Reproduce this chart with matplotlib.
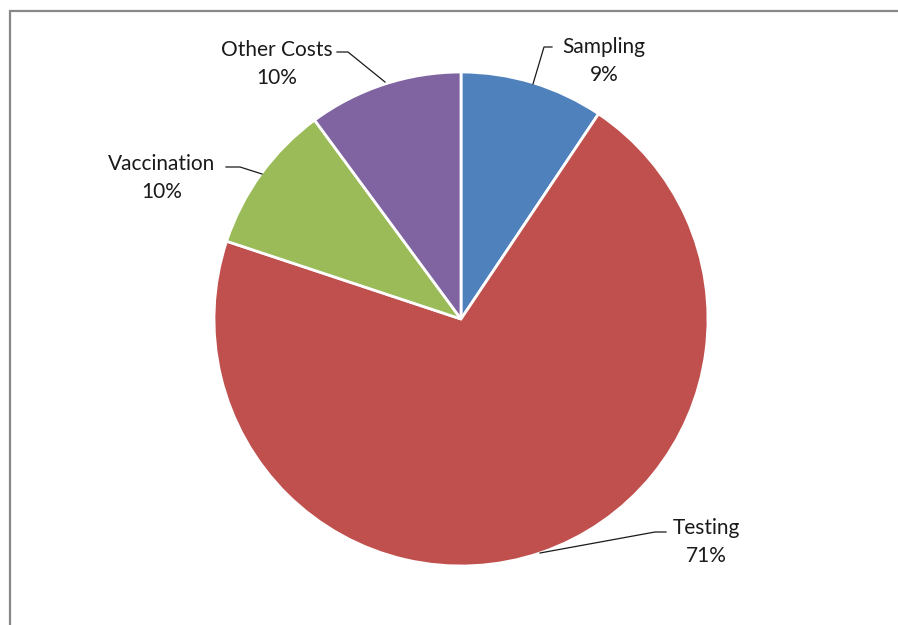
import matplotlib.pyplot as plt

# cost shares (percent)
categories = ["Sampling", "Testing", "Vaccination", "Other Costs"]
shares = [9.4, 70.7, 9.8, 10.1]
colors = ["#4F81BD", "#C0504D", "#9BBB59", "#8064A2"]

W, H = 898, 625


def px(x, y):
    # pixel coords (origin top-left) -> data coords
    return x, H - y


# label block centres and leader paths, in pixel coords
label_pos = {
    "Sampling": (604, 61),
    "Testing": (706, 542),
    "Vaccination": (162, 178),
    "Other Costs": (277, 64),
}
leaders = {
    "Sampling": [(552, 47), (544, 47), (533, 84)],
    "Testing": [(666, 532), (655, 532), (540, 553)],
    "Vaccination": [(226, 167), (240, 167), (262, 174)],
    "Other Costs": [(337, 52), (348, 52), (385, 82)],
}

fig = plt.figure(figsize=(W / 100, H / 100), dpi=100)
ax = fig.add_axes([0, 0, 1, 1])

cx, cy = px(461, 319)
ax.pie(shares, colors=colors, startangle=90, counterclock=False,
       center=(cx, cy), radius=247, frame=True,
       wedgeprops={"edgecolor": "white", "linewidth": 2})
ax.set_xlim(0, W)
ax.set_ylim(0, H)
ax.set_aspect("equal")
ax.axis("off")

for name, val in zip(categories, shares):
    lx, ly = px(*label_pos[name])
    ax.text(lx, ly, f"{name}\n{round(val)}%", ha="center", va="center",
            fontsize=15, family="Lato", color="#1a1a1a", linespacing=1.45)
    pts = [px(x, y) for x, y in leaders[name]]
    ax.plot([p[0] for p in pts], [p[1] for p in pts], color="#1a1a1a", lw=0.9)

# outer chart frame (cut off at right and bottom)
ax.plot([9.5, 9.5, W], [0, H - 11, H - 11], color="#888888", lw=1.6,
        solid_joinstyle="miter", clip_on=False)

fig.savefig("out.png", dpi=100, facecolor="white")
